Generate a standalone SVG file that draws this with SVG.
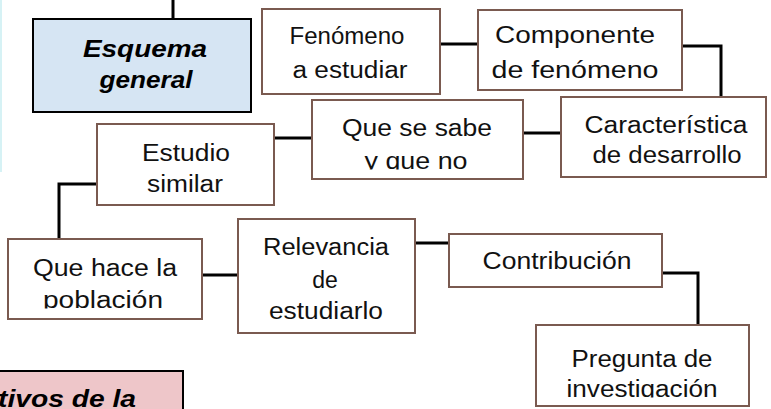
<svg xmlns="http://www.w3.org/2000/svg" width="771" height="409" viewBox="0 0 771 409">
<style>
.box{fill:#ffffff;stroke:#7a5a50;stroke-width:2}
.hdr{stroke:#000;stroke-width:2}
.t{font-family:"Liberation Sans",Arial,sans-serif;font-size:23px;fill:#111;text-anchor:middle}
.b{font-family:"Liberation Sans",Arial,sans-serif;font-size:23px;font-weight:bold;font-style:italic;fill:#000;text-anchor:middle}
.c{fill:none;stroke:#000;stroke-width:3}
</style>
<defs>
<clipPath id="clipQ"><rect x="300" y="90" width="240" height="79.5"/></clipPath>
<clipPath id="clipP"><rect x="0" y="230" width="220" height="78.5"/></clipPath>
<clipPath id="clipI"><rect x="530" y="320" width="230" height="77.5"/></clipPath>
</defs>
<rect x="0" y="0" width="771" height="409" fill="#ffffff"/>
<rect x="0" y="0" width="2" height="172" fill="#d6f2f5"/>
<g id="connectors">
<line class="c" x1="173" y1="0" x2="173" y2="19"/>
<line class="c" x1="440" y1="44" x2="478" y2="44"/>
<polyline class="c" points="682,46 721,46 721,97"/>
<line class="c" x1="523" y1="133" x2="561" y2="133"/>
<line class="c" x1="274" y1="138" x2="312" y2="138"/>
<polyline class="c" points="97,184 59,184 59,239"/>
<line class="c" x1="202" y1="275" x2="238" y2="275"/>
<line class="c" x1="415" y1="243" x2="449" y2="243"/>
<polyline class="c" points="662,273 698,273 698,325"/>
</g>
<g id="esquema">
<rect x="33" y="19" width="218" height="93" fill="#d6e5f3" class="hdr"/>
<text class="b" x="145" y="57" textLength="124" lengthAdjust="spacingAndGlyphs">Esquema</text>
<text class="b" x="146" y="88" textLength="93" lengthAdjust="spacingAndGlyphs">general</text>
</g>
<g id="fenomeno">
<rect class="box" x="262" y="9" width="178" height="85"/>
<text class="t" x="347" y="44" textLength="115" lengthAdjust="spacingAndGlyphs">Fenómeno</text>
<text class="t" x="350" y="78" textLength="115" lengthAdjust="spacingAndGlyphs">a estudiar</text>
</g>
<g id="componente">
<rect class="box" x="478" y="10" width="204" height="80"/>
<text class="t" x="575" y="43" textLength="160" lengthAdjust="spacingAndGlyphs">Componente</text>
<text class="t" x="575" y="78" textLength="167" lengthAdjust="spacingAndGlyphs">de fenómeno</text>
</g>
<g id="caracteristica">
<rect class="box" x="561" y="97" width="205" height="80"/>
<text class="t" x="666" y="133" textLength="163" lengthAdjust="spacingAndGlyphs">Característica</text>
<text class="t" x="667" y="163" textLength="149" lengthAdjust="spacingAndGlyphs">de desarrollo</text>
</g>
<g id="quesesabe">
<rect class="box" x="312" y="100" width="211" height="79"/>
<g clip-path="url(#clipQ)">
<text class="t" x="417" y="136" textLength="150" lengthAdjust="spacingAndGlyphs">Que se sabe</text>
<text class="t" x="416" y="169" textLength="103" lengthAdjust="spacingAndGlyphs">y que no</text>
</g>
</g>
<g id="estudio">
<rect class="box" x="97" y="124" width="177" height="81"/>
<text class="t" x="186" y="161" textLength="88" lengthAdjust="spacingAndGlyphs">Estudio</text>
<text class="t" x="185" y="192" textLength="76" lengthAdjust="spacingAndGlyphs">similar</text>
</g>
<g id="quehace">
<rect class="box" x="8" y="239" width="194" height="80"/>
<g clip-path="url(#clipP)">
<text class="t" x="105" y="276" textLength="144" lengthAdjust="spacingAndGlyphs">Que hace la</text>
<text class="t" x="103" y="308" textLength="120" lengthAdjust="spacingAndGlyphs">población</text>
</g>
</g>
<g id="relevancia">
<rect class="box" x="238" y="219" width="177" height="114"/>
<text class="t" x="326" y="255" textLength="126" lengthAdjust="spacingAndGlyphs">Relevancia</text>
<text class="t" x="325" y="288">de</text>
<text class="t" x="326" y="319" textLength="114" lengthAdjust="spacingAndGlyphs">estudiarlo</text>
</g>
<g id="contribucion">
<rect class="box" x="449" y="234" width="213" height="53"/>
<text class="t" x="557" y="269" textLength="149" lengthAdjust="spacingAndGlyphs">Contribución</text>
</g>
<g id="pregunta">
<rect class="box" x="536" y="325" width="213" height="81"/>
<g clip-path="url(#clipI)">
<text class="t" x="642" y="367" textLength="141" lengthAdjust="spacingAndGlyphs">Pregunta de</text>
<text class="t" x="642" y="397" textLength="151" lengthAdjust="spacingAndGlyphs">investigación</text>
</g>
</g>
<g id="objetivos">
<rect x="-10" y="371" width="193" height="50" fill="#eec6c9" class="hdr"/>
<text class="b" x="67" y="407" textLength="138" lengthAdjust="spacingAndGlyphs">tivos de la</text>
</g>
</svg>
